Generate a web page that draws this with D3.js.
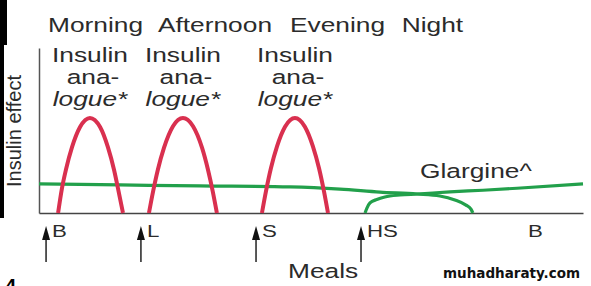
<!DOCTYPE html>
<html>
<head>
<meta charset="utf-8">
<script src="https://cdn.jsdelivr.net/npm/d3@7"></script>
<style>
  html, body { margin: 0; padding: 0; background: #fff; }
  svg { display: block; }
</style>
</head>
<body>
<div id="chart"></div>
<script>
var width = 591,
    height = 286;

// time of day in hours (24+ = next day), insulin effect in arbitrary units 0-100
var periodLabels = ["Morning", "Afternoon", "Evening", "Night"];
var periodStartHours = [6.47, 12.23, 19.15, 25.0];

var mealLabels = ["B", "L", "S", "HS", "B"];
var mealHours = [6.37, 11.34, 17.37, 22.87, 31.3];
var mealHasArrow = [true, true, true, true, false];

var analogueLines = ["Insulin", "ana-", "logue*"];

var analogueBreakfast = [[7.0, 0], [7.2, 14.8], [7.41, 26.2], [7.73, 39.9], [8.15, 52.1], [8.67, 57.6],
    [9.2, 52.1], [9.61, 39.9], [9.93, 26.2], [10.14, 14.8], [10.4, 0]];
var analogueLunch = [[11.76, 0], [11.97, 12.7], [12.23, 26.4], [12.55, 39.6], [13.02, 52.6], [13.54, 57.6],
    [14.07, 52.6], [14.54, 39.6], [14.85, 26.4], [15.11, 12.7], [15.32, 0]];
var analogueSupper = [[17.68, 0], [17.89, 13.1], [18.15, 27.1], [18.47, 40.4], [18.89, 52.3], [19.41, 57.6],
    [19.93, 52.3], [20.35, 40.4], [20.67, 27.1], [20.93, 13.1], [21.14, 0]];

var glarginePrevious = [[6.0, 17.6], [10.24, 17.0], [14.43, 16.4], [19.15, 15.8], [21.77, 14.5], [23.86, 12.7],
    [25.8, 11.5], [27.0, 10.3], [27.79, 7.9], [28.37, 4.8], [28.63, 2.4], [28.73, 0]];
var glargineBedtime = [[23.08, 0], [23.18, 3.0], [23.34, 6.1], [23.7, 8.2], [24.12, 9.7], [24.91, 10.9],
    [25.8, 11.5], [27.53, 12.8], [29.26, 13.8], [31.04, 15.0], [34.5, 17.6]];

var glargineLabel = "Glargine^";
var glargineLabelAt = [25.96, 21.2];

var sx = 1.35; // source image is stretched horizontally
var font = "'Liberation Sans', Arial, sans-serif";
var textColor = "#2b2b2b";

var svg = d3.select('#chart').append('svg')
    .attr('width', width)
    .attr('height', height);

svg.append('rect').attr('width', width).attr('height', height).attr('fill', '#fff');

// scan edge
svg.append('rect').attr('x', 0).attr('y', 0).attr('width', 7).attr('height', 45).attr('fill', '#000');
svg.append('rect').attr('x', 0).attr('y', 45).attr('width', 4).attr('height', 173).attr('fill', '#000');
svg.append('text').attr('x', 5).attr('y', 293)
    .style('font-family', font).style('font-weight', 'bold').style('font-size', '20px')
    .attr('fill', '#000').text('4');

var x = d3.scaleLinear().domain([6, 34.5]).range([39, 583]);
var y = d3.scaleLinear().domain([0, 100]).range([213, 48]);

function label(px, py, str, size, anchor) {
    return svg.append('text')
        .attr('transform', 'translate(' + px + ',' + py + ') scale(' + sx + ',1)')
        .attr('text-anchor', anchor || 'start')
        .style('font-family', font)
        .style('font-size', size + 'px')
        .attr('fill', textColor)
        .text(str);
}

// axes
svg.append('g')
    .attr('transform', 'translate(' + x.range()[0] + ',0)')
    .call(d3.axisLeft(y).tickValues([]).tickSizeOuter(0))
    .select('.domain').attr('stroke', '#555').attr('stroke-width', 1.5);

svg.append('g')
    .attr('transform', 'translate(0,' + y(0) + ')')
    .call(d3.axisBottom(x).tickValues([]).tickSizeOuter(0))
    .select('.domain').attr('stroke', '#444').attr('stroke-width', 1.5);

var line = d3.line()
    .x(function(d) { return x(d[0]); })
    .y(function(d) { return y(d[1]); })
    .curve(d3.curveMonotoneX);

svg.selectAll('path.glargine')
    .data([glarginePrevious, glargineBedtime])
    .enter()
    .append('path')
    .attr('class', 'glargine')
    .attr('fill', 'none')
    .attr('stroke', '#22a04b')
    .attr('stroke-width', 3.2)
    .attr('d', line);

var analogues = [analogueBreakfast, analogueLunch, analogueSupper];

svg.selectAll('path.analogue')
    .data(analogues)
    .enter()
    .append('path')
    .attr('class', 'analogue')
    .attr('fill', 'none')
    .attr('stroke', '#d9304f')
    .attr('stroke-width', 4)
    .attr('d', line);

// period labels
periodLabels.forEach(function(p, i) {
    label(x(periodStartHours[i]), 32, p, 19.5);
});

// analogue labels above each peak
analogues.forEach(function(curve) {
    var peak = d3.greatest(curve, function(d) { return d[1]; });
    var px = x(peak[0]), py = y(peak[1]);
    label(px, py - 56, analogueLines[0], 19.5, 'middle');
    label(px + 3, py - 34, analogueLines[1], 19.5, 'middle');
    label(px, py - 12, analogueLines[2], 19.5, 'middle').style('font-style', 'italic');
});

label(x(glargineLabelAt[0]), y(glargineLabelAt[1]), glargineLabel, 19.5);

// y axis title
svg.append('text')
    .attr('transform', 'translate(21,131) rotate(-90)')
    .attr('text-anchor', 'middle')
    .style('font-family', font)
    .style('font-size', '20px')
    .attr('fill', textColor)
    .text('Insulin effect');

// meals
mealLabels.forEach(function(m, i) {
    var mx = x(mealHours[i]);
    if (mealHasArrow[i]) {
        svg.append('line')
            .attr('x1', mx).attr('x2', mx)
            .attr('y1', 236).attr('y2', 262)
            .attr('stroke', '#222').attr('stroke-width', 1.5);
        svg.append('path')
            .attr('d', 'M' + mx + ',226L' + (mx - 4) + ',240L' + (mx + 4) + ',240Z')
            .attr('fill', '#111');
    }
    label(mx + 6, 237, m, 16.5);
});

label(288, 278, 'Meals', 19.5);

svg.append('text')
    .attr('x', 443).attr('y', 278)
    .style('font-family', "'DejaVu Sans', Verdana, sans-serif")
    .style('font-weight', 'bold')
    .style('font-size', '13.5px')
    .attr('fill', '#111')
    .text('muhadharaty.com');
</script>
</body>
</html>
